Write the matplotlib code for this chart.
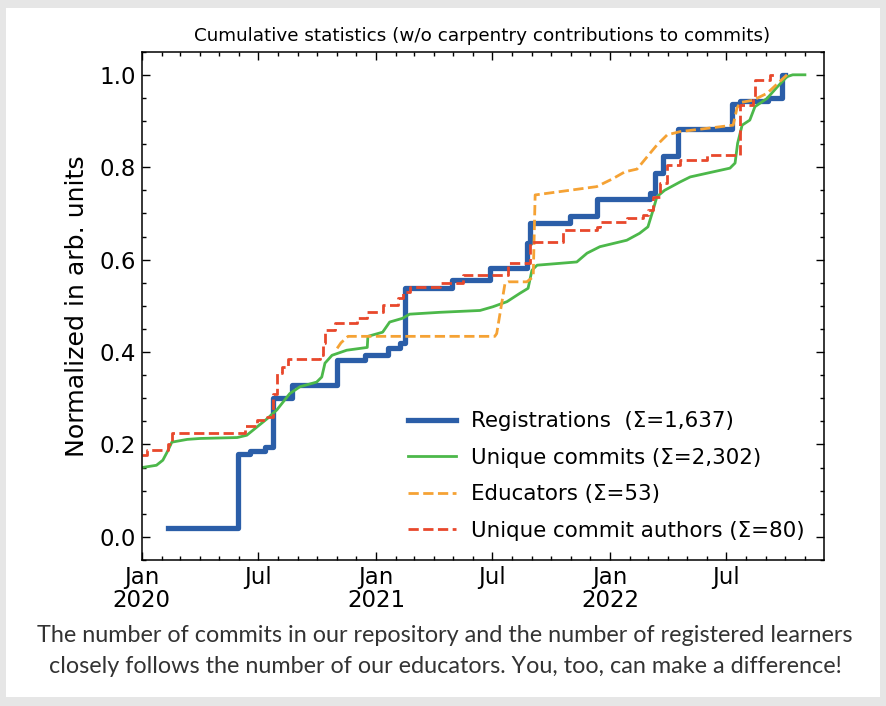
import numpy as np
import matplotlib
matplotlib.use("Agg")
import matplotlib.pyplot as plt
import matplotlib.dates as mdates

# ---------------- data ----------------
reg_dates = ["2020-02-11", "2020-05-30", "2020-06-18", "2020-07-11", "2020-07-24",
             "2020-08-22", "2020-11-01", "2020-12-14", "2021-01-19", "2021-02-07",
             "2021-02-15", "2021-04-29", "2021-06-27", "2021-08-24", "2021-08-29",
             "2021-10-30", "2021-12-11", "2022-03-04", "2022-03-12", "2022-03-24",
             "2022-04-17", "2022-07-10", "2022-07-22", "2022-09-04", "2022-09-27",
             "2022-10-01"]
reg_vals = [0.02, 0.18, 0.185, 0.195, 0.30,
            0.328, 0.382, 0.393, 0.408, 0.419,
            0.538, 0.555, 0.581, 0.635, 0.68,
            0.695, 0.732, 0.745, 0.788, 0.825,
            0.883, 0.937, 0.944, 0.95, 1.0,
            1.0]

com_dates = ["2020-01-01", "2020-01-24", "2020-02-03", "2020-02-11", "2020-02-17",
             "2020-03-12", "2020-04-01", "2020-05-29", "2020-06-13", "2020-06-29",
             "2020-07-15", "2020-07-30", "2020-08-19", "2020-09-04", "2020-09-30",
             "2020-10-08", "2020-10-13", "2020-10-24", "2020-11-16", "2020-12-18",
             "2020-12-19", "2021-01-11", "2021-01-22", "2021-02-11", "2021-02-22",
             "2021-04-10", "2021-06-12", "2021-07-02", "2021-07-24", "2021-08-13",
             "2021-08-26", "2021-09-01", "2021-09-09", "2021-11-10", "2021-11-26",
             "2021-12-16", "2022-01-27", "2022-02-16", "2022-03-01", "2022-03-09",
             "2022-03-15", "2022-03-27", "2022-04-20", "2022-05-06", "2022-06-01",
             "2022-07-07", "2022-07-15", "2022-07-19", "2022-07-26", "2022-08-07",
             "2022-08-15", "2022-09-03", "2022-09-19", "2022-10-04", "2022-10-13",
             "2022-11-01"]
com_vals = [0.150, 0.155, 0.166, 0.187, 0.205,
            0.211, 0.213, 0.215, 0.220, 0.238,
            0.256, 0.275, 0.310, 0.325, 0.335,
            0.346, 0.376, 0.393, 0.404, 0.410,
            0.434, 0.443, 0.465, 0.473, 0.482,
            0.486, 0.490, 0.498, 0.509, 0.527,
            0.538, 0.577, 0.588, 0.595, 0.614,
            0.628, 0.642, 0.657, 0.671, 0.707,
            0.736, 0.750, 0.768, 0.779, 0.787,
            0.798, 0.809, 0.852, 0.891, 0.902,
            0.931, 0.949, 0.974, 0.996, 1.0,
            1.0]

edu_dates = ["2020-11-01", "2020-11-07", "2020-11-18", "2021-07-05", "2021-07-08",
             "2021-07-21", "2021-07-26", "2021-08-24", "2021-09-03", "2021-09-06",
             "2021-12-11", "2022-01-05", "2022-01-24", "2022-02-12", "2022-02-28",
             "2022-03-15", "2022-03-31", "2022-04-20", "2022-07-12", "2022-07-18",
             "2022-07-23", "2022-08-12", "2022-09-03", "2022-10-04"]
edu_vals = [0.408, 0.420, 0.434, 0.434, 0.440,
            0.549, 0.552, 0.552, 0.563, 0.740,
            0.758, 0.775, 0.790, 0.796, 0.823,
            0.848, 0.870, 0.877, 0.891, 0.928,
            0.940, 0.945, 0.960, 1.0]

auth_dates = ["2020-01-01", "2020-01-09", "2020-02-11", "2020-02-17", "2020-06-10",
              "2020-06-29", "2020-07-15", "2020-07-24", "2020-07-30", "2020-08-07",
              "2020-08-16", "2020-10-05", "2020-10-10", "2020-10-13", "2020-10-29",
              "2020-12-02", "2020-12-18", "2021-01-11", "2021-02-04", "2021-02-12",
              "2021-02-23", "2021-04-11", "2021-05-16", "2021-07-26", "2021-08-29",
              "2021-10-19", "2021-12-11", "2021-12-16", "2022-01-27", "2022-02-21",
              "2022-03-01", "2022-03-09", "2022-03-20", "2022-03-31", "2022-04-20",
              "2022-06-01", "2022-07-23", "2022-08-12", "2022-08-15", "2022-09-07",
              "2022-09-15"]
auth_vals = [0.177, 0.187, 0.202, 0.225, 0.241,
             0.252, 0.260, 0.310, 0.354, 0.367,
             0.386, 0.393, 0.419, 0.447, 0.462,
             0.473, 0.486, 0.501, 0.516, 0.530,
             0.540, 0.549, 0.566, 0.592, 0.639,
             0.664, 0.671, 0.682, 0.690, 0.696,
             0.707, 0.736, 0.766, 0.805, 0.815,
             0.826, 0.935, 0.945, 0.989, 1.0,
             1.0]

labels = ["Registrations  (\u03a3=1,637)", "Unique commits (\u03a3=2,302)",
          "Educators (\u03a3=53)", "Unique commit authors (\u03a3=80)"]

xtick_dates = ["2020-01-01", "2020-07-01", "2021-01-01", "2021-07-01",
               "2022-01-01", "2022-07-01"]
xtick_labels = ["Jan\n2020", "Jul", "Jan\n2021", "Jul", "Jan\n2022", "Jul"]

title = "Cumulative statistics (w/o carpentry contributions to commits)"
ylabel = "Normalized in arb. units"
caption = ("The number of commits in our repository and the number of registered learners\n"
           "closely follows the number of our educators. You, too, can make a difference!")

# ---------------- figure ----------------
W, H = 887, 706
fig = plt.figure(figsize=(W / 100, H / 100), dpi=100)
fig.patch.set_facecolor("#e6e6e6")

# white panel behind everything
bg = fig.add_axes([6 / W, 1 - 697 / H, (880 - 6) / W, (697 - 8) / H], zorder=-10)
bg.set_facecolor("white")
bg.set_xticks([])
bg.set_yticks([])
for s in bg.spines.values():
    s.set_visible(False)

ax = fig.add_axes([141.7 / W, 1 - 560 / H, (823.5 - 141.7) / W, (560 - 51.7) / H],
                  zorder=1)
ax.set_facecolor("white")

def d(lst):
    return np.array(lst, dtype="datetime64[D]")

ax.plot(d(reg_dates), reg_vals, drawstyle="steps-post", color="#2b5ea8", lw=3.8,
        label=labels[0])
ax.plot(d(com_dates), com_vals, color="#4cb84a", lw=2.0, label=labels[1])
ax.plot(d(edu_dates), edu_vals, color="#f5a234", lw=2.0, ls="--", label=labels[2])
ax.plot(d(auth_dates), auth_vals, drawstyle="steps-post", color="#e8482c", lw=2.0,
        ls="--", label=labels[3])

ax.set_xlim(np.datetime64("2020-01-01"), np.datetime64("2022-11-30"))
ax.set_ylim(-0.05, 1.05)

ax.set_xticks(d(xtick_dates))
ax.set_xticklabels(xtick_labels)
ax.xaxis.set_minor_locator(mdates.MonthLocator())
ax.set_yticks([0.0, 0.2, 0.4, 0.6, 0.8, 1.0])
ax.set_yticklabels(["0.0", "0.2", "0.4", "0.6", "0.8", "1.0"])
ax.yaxis.set_minor_locator(matplotlib.ticker.MultipleLocator(0.05))

ax.tick_params(which="both", direction="in", top=True, right=True, width=1.0)
ax.tick_params(which="major", length=6, labelsize=16.5, pad=4)
ax.tick_params(which="minor", length=3)
for lab in ax.get_xticklabels():
    lab.set_linespacing(1.0)
for s in ax.spines.values():
    s.set_linewidth(1.1)

ax.set_title(title, fontsize=13.2, pad=8)
ax.set_ylabel(ylabel, fontsize=18.2, labelpad=8)

ax.legend(loc="lower right", frameon=False, fontsize=15.4, handlelength=2.25,
          handletextpad=0.7, labelspacing=0.77)

fig.text(445 / W, 1 - 651 / H, caption, ha="center", va="center",
         fontsize=16.8, family=["Lato", "DejaVu Sans"], color="#333333",
         linespacing=1.58)

fig.savefig("out.png", dpi=100, facecolor=fig.get_facecolor())
